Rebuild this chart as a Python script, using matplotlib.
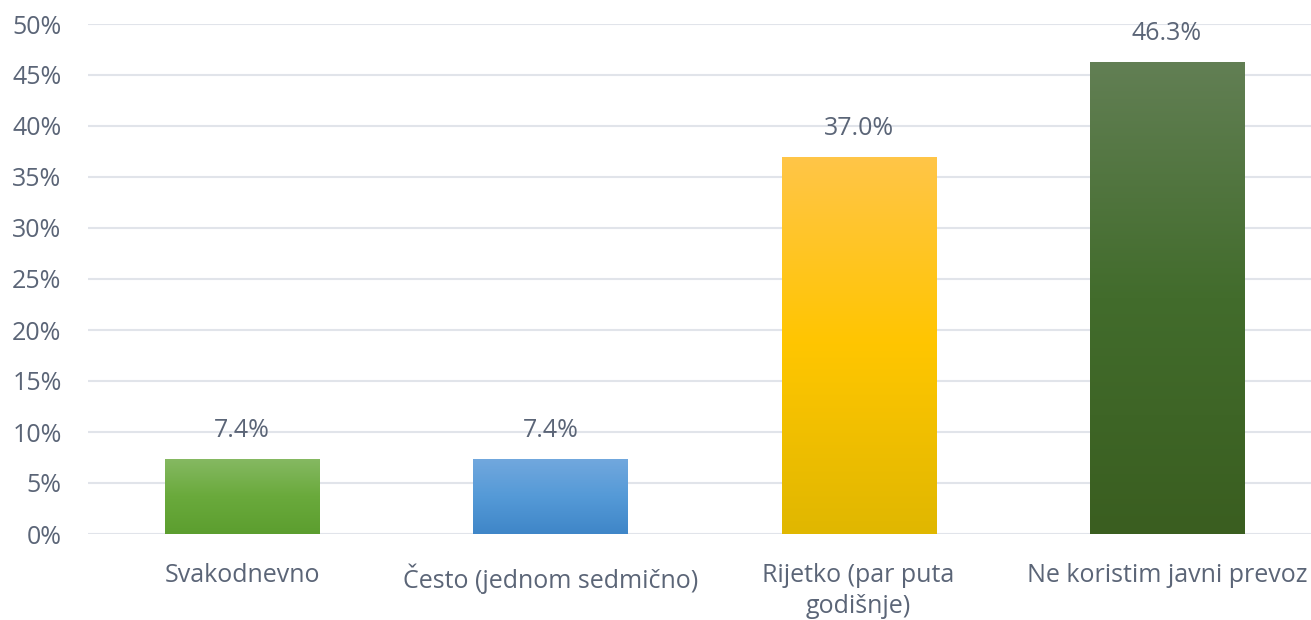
import matplotlib
matplotlib.use("Agg")
import matplotlib.pyplot as plt
import numpy as np
from matplotlib.colors import LinearSegmentedColormap

categories = ["Svakodnevno", "Često (jednom sedmično)", "Rijetko (par puta\ngodišnje)", "Ne koristim javni prevoz"]
values = [7.4, 7.4, 37.0, 46.3]
value_labels = ["7.4%", "7.4%", "37.0%", "46.3%"]
yticks = [0, 5, 10, 15, 20, 25, 30, 35, 40, 45, 50]
ytick_labels = [f"{t}%" for t in yticks]
gradients = [
    ["#86b963", "#6aaa3c", "#5c9e2f"],
    ["#72a8de", "#559ad7", "#3f86c8"],
    ["#ffc548", "#ffc600", "#e0b700"],
    ["#627f54", "#426c2c", "#3a5e20"],
]

plt.rcParams['font.family'] = ['Open Sans', 'DejaVu Sans']
text_color = "#5b6577"
fs = 18

fig = plt.figure(figsize=(13.11, 6.2), dpi=100)
ax = fig.add_axes([88/1311, 86/620, 1233/1311, 510/620])

x = np.arange(len(categories))
bars = ax.bar(x, values, width=0.5, color="none", edgecolor="none", zorder=3)
for b, grad in zip(bars, gradients):
    cmap = LinearSegmentedColormap.from_list("g", grad[::-1])
    grad_img = np.linspace(0, 1, 256).reshape(-1, 1)
    x0, y0 = b.get_x(), b.get_y()
    w, h = b.get_width(), b.get_height()
    im = ax.imshow(grad_img, cmap=cmap, extent=[x0, x0 + w, y0, y0 + h],
                   origin="lower", aspect="auto", zorder=3)
    im.set_clip_path(b)

for xi, v, lab in zip(x, values, value_labels):
    ax.annotate(lab, (xi, v), xytext=(0, 11), textcoords="offset points",
                ha="center", va="bottom", fontsize=fs, color=text_color)

ax.set_xlim(-0.5, 3.5)
ax.set_ylim(0, 50)
ax.set_yticks(yticks)
ax.set_yticklabels(ytick_labels)
ax.set_xticks(x)
ax.set_xticklabels(categories)
ax.tick_params(axis="both", length=0, labelsize=fs, colors=text_color)
ax.tick_params(axis="x", pad=21)
ax.tick_params(axis="y", pad=19)
for lab in ax.get_xticklabels():
    lab.set_linespacing(1.3)
ax.grid(axis="y", color="#e1e4ea", linewidth=1.5, zorder=0)
ax.set_axisbelow(True)
for s in ax.spines.values():
    s.set_visible(False)

fig.savefig("out.png", dpi=100)
